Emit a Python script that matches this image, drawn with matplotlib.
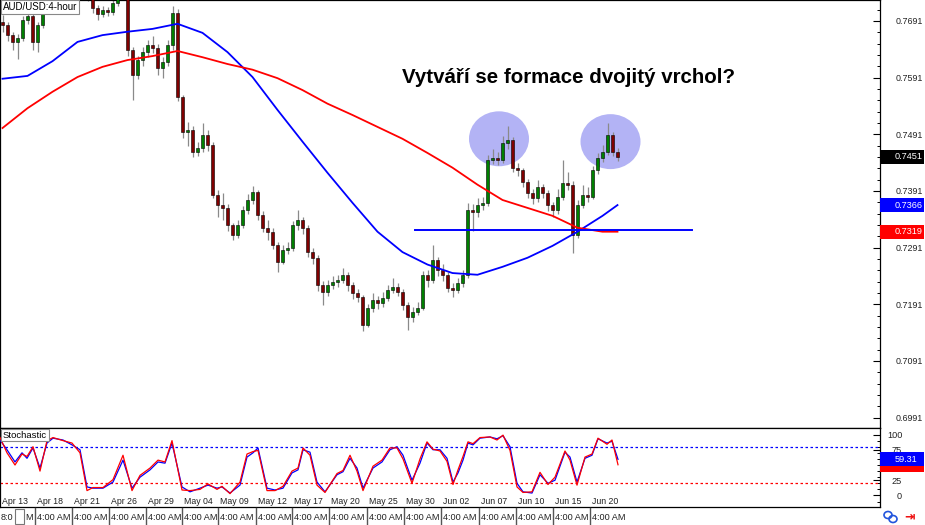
import numpy as np
import matplotlib.pyplot as plt
from matplotlib.patches import Ellipse, Rectangle
from matplotlib.lines import Line2D
from matplotlib.ticker import FixedLocator
from matplotlib.transforms import blended_transform_factory

plt.rcParams['font.family'] = ['Liberation Sans', 'DejaVu Sans']

# ---- AUD/USD 4-hour candles (bar index 0..123); open of a bar = previous close
first_open = 0.7690
closes = [
    0.7684, 0.7666, 0.7654, 0.7661, 0.7693, 0.7700, 0.7654, 0.7684, 0.7714, 0.7737,
    0.7749, 0.7754, 0.7746, 0.7760, 0.7753, 0.7742, 0.7749, 0.7735, 0.7714, 0.7703,
    0.7710, 0.7707, 0.7723, 0.7739, 0.7746, 0.7640, 0.7596, 0.7622, 0.7636, 0.7649,
    0.7643, 0.7608, 0.7619, 0.7649, 0.7705, 0.7557, 0.7495, 0.7499, 0.7460, 0.7467,
    0.7490, 0.7472, 0.7384, 0.7366, 0.7361, 0.7331, 0.7314, 0.7331, 0.7358, 0.7375,
    0.7389, 0.7349, 0.7326, 0.7319, 0.7296, 0.7266, 0.7287, 0.7291, 0.7331, 0.7340,
    0.7326, 0.7284, 0.7273, 0.7225, 0.7213, 0.7225, 0.7231, 0.7234, 0.7243, 0.7225,
    0.7211, 0.7204, 0.7155, 0.7185, 0.7199, 0.7193, 0.7202, 0.7216, 0.7222, 0.7213,
    0.7190, 0.7169, 0.7178, 0.7185, 0.7243, 0.7234, 0.7269, 0.7252, 0.7243, 0.7220,
    0.7216, 0.7229, 0.7243, 0.7358, 0.7354, 0.7366, 0.7370, 0.7446, 0.7449, 0.7446,
    0.7476, 0.7481, 0.7432, 0.7428, 0.7407, 0.7388, 0.7379, 0.7398, 0.7388, 0.7366,
    0.7358, 0.7381, 0.7405, 0.7402, 0.7314, 0.7366, 0.7384, 0.7381, 0.7428, 0.7449,
    0.7460, 0.7490, 0.7460, 0.7451]
highs = [
    0.7702, 0.7690, 0.7672, 0.7668, 0.7700, 0.7712, 0.7704, 0.7690, 0.7722, 0.7745,
    0.7760, 0.7765, 0.7760, 0.7768, 0.7766, 0.7758, 0.7756, 0.7752, 0.7738, 0.7720,
    0.7718, 0.7716, 0.7730, 0.7748, 0.7756, 0.7750, 0.7645, 0.7630, 0.7645, 0.7657,
    0.7665, 0.7650, 0.7628, 0.7658, 0.7718, 0.7712, 0.7560, 0.7512, 0.7505, 0.7478,
    0.7510, 0.7498, 0.7478, 0.7392, 0.7388, 0.7368, 0.7335, 0.7340, 0.7365, 0.7385,
    0.7400, 0.7392, 0.7355, 0.7340, 0.7325, 0.7300, 0.7295, 0.7300, 0.7338, 0.7358,
    0.7345, 0.7330, 0.7290, 0.7278, 0.7232, 0.7233, 0.7240, 0.7242, 0.7255, 0.7248,
    0.7230, 0.7218, 0.7208, 0.7192, 0.7210, 0.7206, 0.7212, 0.7225, 0.7238, 0.7228,
    0.7218, 0.7195, 0.7186, 0.7195, 0.7250, 0.7252, 0.7296, 0.7275, 0.7262, 0.7248,
    0.7228, 0.7238, 0.7252, 0.7370, 0.7368, 0.7378, 0.7380, 0.7455, 0.7465, 0.7460,
    0.7488, 0.7505, 0.7486, 0.7440, 0.7432, 0.7412, 0.7395, 0.7410, 0.7404, 0.7392,
    0.7372, 0.7395, 0.7446, 0.7425, 0.7408, 0.7375, 0.7402, 0.7398, 0.7435, 0.7458,
    0.7472, 0.7511, 0.7495, 0.7466]
lows = [
    0.7672, 0.7655, 0.7640, 0.7623, 0.7655, 0.7686, 0.7640, 0.7636, 0.7678, 0.7708,
    0.7730, 0.7740, 0.7738, 0.7740, 0.7745, 0.7735, 0.7736, 0.7726, 0.7705, 0.7692,
    0.7698, 0.7700, 0.7702, 0.7718, 0.7733, 0.7630, 0.7552, 0.7588, 0.7612, 0.7628,
    0.7635, 0.7595, 0.7590, 0.7612, 0.7640, 0.7550, 0.7485, 0.7470, 0.7450, 0.7452,
    0.7460, 0.7462, 0.7378, 0.7345, 0.7340, 0.7320, 0.7305, 0.7308, 0.7325, 0.7350,
    0.7368, 0.7340, 0.7318, 0.7305, 0.7288, 0.7247, 0.7262, 0.7280, 0.7285, 0.7322,
    0.7315, 0.7275, 0.7262, 0.7215, 0.7190, 0.7205, 0.7218, 0.7222, 0.7228, 0.7215,
    0.7200, 0.7195, 0.7143, 0.7150, 0.7178, 0.7183, 0.7186, 0.7196, 0.7210, 0.7205,
    0.7180, 0.7146, 0.7160, 0.7172, 0.7180, 0.7222, 0.7228, 0.7240, 0.7232, 0.7212,
    0.7204, 0.7210, 0.7222, 0.7238, 0.7320, 0.7345, 0.7358, 0.7365, 0.7438, 0.7436,
    0.7440, 0.7465, 0.7425, 0.7418, 0.7398, 0.7378, 0.7368, 0.7372, 0.7378, 0.7355,
    0.7345, 0.7350, 0.7375, 0.7392, 0.7282, 0.7308, 0.7360, 0.7372, 0.7376, 0.7420,
    0.7442, 0.7455, 0.7452, 0.7444]

# ---- moving averages, read at every 5th bar
ma_idx = [0, 5, 10, 15, 20, 25, 30, 35, 40, 45, 50, 55, 60, 65, 70, 75, 80, 85,
          90, 95, 100, 105, 110, 115, 120, 123]
ma_blue = [0.7589, 0.7594, 0.7620, 0.7654, 0.7666, 0.7672, 0.7677, 0.7686, 0.7670,
           0.7636, 0.7592, 0.7534, 0.7478, 0.7423, 0.7370, 0.7319, 0.7283, 0.7261,
           0.7246, 0.7243, 0.7257, 0.7273, 0.7294, 0.7319, 0.7347, 0.7366]
ma_red = [0.7502, 0.7537, 0.7566, 0.7592, 0.7610, 0.7622, 0.7629, 0.7638, 0.7627,
          0.7615, 0.7605, 0.7590, 0.7569, 0.7545, 0.7525, 0.7504, 0.7483, 0.7458,
          0.7432, 0.7402, 0.7375, 0.7361, 0.7347, 0.7326, 0.7319, 0.7319]

# ---- neckline and the two tops
level_price = 0.7322
level_from, level_to = 82.5, 137.9
tops_bar = [99.3, 121.6]
tops_price = [0.7483, 0.7478]

# ---- stochastic oscillator
stoch_idx = [-0.5, 0.9, 2.5, 3.9, 4.9, 6.1, 7.5, 8.9, 10.1, 12.1, 13.9, 15.5, 16.9, 18.1,
             20.1, 22.1, 24.1, 25.9, 27.5, 29.5, 31.1, 32.5, 33.9, 35.9, 37.5, 39.5,
             41.1, 42.9, 43.9, 45.5, 47.5, 48.9, 50.1, 51.1, 52.9, 54.5, 56.1, 57.9,
             59.1, 60.1, 61.5, 62.9, 64.5, 66.9, 68.1, 69.5, 70.9, 72.1, 74.1, 75.9,
             77.5, 78.9, 80.1, 81.9, 83.5, 84.9, 86.1, 87.5, 88.9, 90.1, 91.1, 92.1,
             93.1, 94.1, 95.5, 97.5, 98.9, 100.1, 101.5, 102.9, 104.1, 105.9, 107.5,
             109.1, 110.5, 112.5, 113.5, 114.9, 116.5, 117.9, 119.1, 120.9, 121.9, 123.1]
stoch_k = [91, 75, 55, 70, 61, 78, 45, 86, 94, 91, 83, 75, 14, 12, 12, 22, 58, 12, 30, 42,
           55, 53, 86, 14, 6, 12, 17, 12, 14, 4, 17, 63, 70, 78, 12, 9, 12, 37, 42, 75,
           71, 22, 6, 34, 39, 61, 45, 12, 45, 55, 75, 80, 66, 25, 53, 86, 75, 75, 61, 22,
           37, 58, 86, 83, 94, 96, 93, 98, 80, 20, 6, 4, 34, 20, 25, 71, 63, 22, 61, 66,
           93, 86, 89, 59.31]
stoch_d = [95, 70, 50, 68, 64, 80, 40, 90, 95, 90, 86, 70, 8, 13, 13, 26, 66, 8, 33, 45,
           58, 55, 90, 9, 8, 10, 19, 10, 15, 3, 22, 68, 72, 74, 8, 8, 15, 40, 45, 78,
           66, 17, 5, 36, 41, 66, 40, 8, 48, 58, 78, 78, 60, 20, 60, 88, 76, 73, 56, 18,
           42, 64, 88, 85, 95, 96, 91, 99, 74, 14, 5, 6, 38, 18, 30, 73, 58, 17, 63, 68,
           94, 84, 91, 50.43]
stoch_levels = [80, 20]

price_ticks = [0.6991, 0.7091, 0.7191, 0.7291, 0.7391, 0.7491, 0.7591, 0.7691]
stoch_ticks = [0, 25, 75, 100]
date_labels = ['Apr 13', 'Apr 18', 'Apr 21', 'Apr 26', 'Apr 29', 'May 04', 'May 09',
               'May 12', 'May 17', 'May 20', 'May 25', 'May 30', 'Jun 02', 'Jun 07',
               'Jun 10', 'Jun 15', 'Jun 20']
time_labels = ['4:00 AM'] * 16

# ---- layout (pixels)
W, H = 925, 525
sep_px = [35, 72, 109, 146, 182, 218, 256, 292, 329, 367, 404, 441, 479, 516, 553, 590]


def fx(px):
    return px / W


def fy(py):
    return 1 - py / H


fig = plt.figure(figsize=(W / 100, H / 100), dpi=100)
ax = fig.add_axes([0, fy(428), fx(880), 428 / H])
ax2 = fig.add_axes([0, fy(507), fx(880), 79 / H])

for a in (ax, ax2):
    a.set_xlim(-0.5, 175.5)
    a.set_xticks([])
    a.yaxis.tick_right()
    for s in a.spines.values():
        s.set_color('black')
        s.set_linewidth(0.9)
ax.set_ylim(0.69725, 0.7728)
ax2.set_ylim(-18.9, 110.7)

# candles
bars = np.arange(len(closes))
c = np.array(closes)
o = np.array([first_open] + closes[:-1])
up = c >= o
ax.vlines(bars, lows, highs, color='#8a8a8a', lw=0.9, zorder=2)
ax.bar(bars, np.maximum(np.abs(c - o), 0.00006), bottom=np.minimum(o, c), width=0.55,
       color=np.where(up, '#008000', '#800000'), edgecolor='black', linewidth=0.4, zorder=3)

for bx, py in zip(tops_bar, tops_price):
    ax.add_patch(Ellipse((bx, py), 12.0, 0.0097, fc='#b3b3f5', ec='none', zorder=1))

ax.plot(ma_idx, ma_blue, color='#0000ff', lw=1.3, zorder=4)
ax.plot(ma_idx, ma_red, color='#ff0000', lw=1.3, zorder=4)
ax.plot([level_from, level_to], [level_price, level_price], color='#0000ff', lw=1.4, zorder=5)

# right price scale
ax.set_yticks(price_ticks)
ax.set_yticklabels([f'{t:.4f}' for t in price_ticks])
ax.yaxis.set_minor_locator(FixedLocator(np.arange(0.6971, 0.7730, 0.002)))
ax.tick_params(axis='y', which='major', direction='in', length=5, width=0.8,
               labelsize=6.4, pad=11, labelcolor='#222222')
ax.tick_params(axis='y', which='minor', direction='in', length=2.5, width=0.7)

# stochastic panel
ax2.plot(stoch_idx, stoch_k, color='#0000ff', lw=0.9, zorder=3)
ax2.plot(stoch_idx, stoch_d, color='#ff0000', lw=0.9, zorder=3)
ax2.axhline(stoch_levels[0], color='#0000ff', lw=0.9, ls=(0, (2, 2)))
ax2.axhline(stoch_levels[1], color='#ff0000', lw=0.9, ls=(0, (2, 2)))
ax2.set_yticks(stoch_ticks)
ax2.yaxis.set_minor_locator(FixedLocator(np.arange(-10, 111, 10)))
ax2.tick_params(axis='y', which='major', direction='in', length=5, width=0.8,
                labelsize=6.6, pad=16, labelcolor='#222222')
ax2.tick_params(axis='y', which='minor', direction='in', length=2.5, width=0.7)
for lab in ax2.get_yticklabels():
    lab.set_horizontalalignment('right')


def scale_box(a, y, txt, fc, h_px=14):
    trans = blended_transform_factory(a.transAxes, a.transData)
    y0, y1 = a.get_ylim()
    pos = a.get_position()
    dh = h_px * (y1 - y0) / (pos.height * H)
    w = (W - 881) / (pos.width * W)
    a.add_patch(Rectangle((1.0, y - dh / 2), w, dh, transform=trans, fc=fc, ec='none',
                          clip_on=False, zorder=10))
    if txt:
        a.text(1.0 + 15 / (pos.width * W), y, txt, transform=trans, ha='left', va='center',
               color='white', fontsize=6.6, clip_on=False, zorder=11)


scale_box(ax, closes[-1], f'{closes[-1]:.4f}', 'black')
scale_box(ax, ma_blue[-1], f'{ma_blue[-1]:.4f}', '#0000ff')
scale_box(ax, ma_red[-1], f'{ma_red[-1]:.4f}', '#ff0000')
scale_box(ax2, stoch_d[-1], '', '#ff0000')   # its label sits hidden under the blue box
scale_box(ax2, stoch_k[-1], f'{stoch_k[-1]:.2f}', '#0000ff')

# labels in boxes
ax.text(0.003, 1 - 7 / 428, 'AUD/USD:4-hour', transform=ax.transAxes, fontsize=7,
        va='center', ha='left', zorder=12,
        bbox=dict(boxstyle='square,pad=0.2', fc='white', ec='#888888', lw=0.8))
ax2.text(0.003, 1 - 7 / 79, 'Stochastic', transform=ax2.transAxes, fontsize=6.8,
         va='center', ha='left', zorder=12,
         bbox=dict(boxstyle='square,pad=0.2', fc='white', ec='#888888', lw=0.8))

fig.text(fx(569), fy(77), 'Vytváří se formace dvojitý vrchol?', ha='center', va='center',
         fontsize=14.8, fontweight='bold', color='black')

# date labels along the bottom of the oscillator
date_px = [2] + [s + 2 for s in sep_px]
for px, lab in zip(date_px, date_labels):
    fig.text(fx(px), fy(501), lab, fontsize=6.3, va='center', ha='left', color='#222222')

# time row under the chart
for s in sep_px:
    fig.add_artist(Line2D([fx(s), fx(s)], [fy(525), fy(508)], color='#555555', lw=1.0))
for s, lab in zip(sep_px, time_labels):
    fig.text(fx(s + 2), fy(517), lab, fontsize=6.6, va='center', ha='left', color='#222222')
fig.text(fx(1), fy(517), '8:0', fontsize=6.6, va='center', ha='left', color='#222222')
fig.add_artist(Rectangle((fx(15), fy(524)), fx(9), 15 / H, fc='white', ec='#777777', lw=0.8))
fig.text(fx(25), fy(517), 'M', fontsize=6.6, va='center', ha='left', color='#222222')

# small icons at bottom right
fig.add_artist(Ellipse((fx(888), fy(515)), fx(8), 7 / H, fc='none', ec='#2255dd', lw=1.2))
fig.add_artist(Ellipse((fx(893), fy(519)), fx(8), 7 / H, fc='none', ec='#2255dd', lw=1.2))
fig.text(fx(910), fy(517), '⇥', fontsize=9, color='#ee1111', ha='center', va='center',
         fontweight='bold')

fig.savefig('out.png', dpi=100, facecolor='white')
